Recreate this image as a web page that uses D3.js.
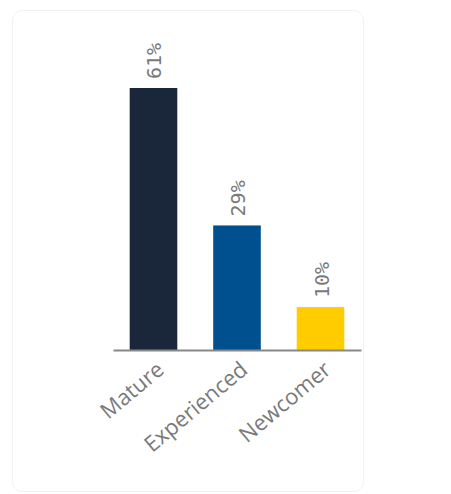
<!DOCTYPE html>
<html>
<head>
<meta charset="utf-8">
<style>
body { margin: 0; background: #fff; }
#chart text.value { font-family: "DejaVu Sans Mono", monospace; fill: #7a7a7a; font-size: 20px; }
#chart text.cat { font-family: "Open Sans", sans-serif; fill: #7a7a7a; font-size: 22px; }
</style>
</head>
<body>
<svg id="chart" width="451" height="494"></svg>
<script src="https://d3js.org/d3.v7.min.js"></script>
<script>
const categories = ['Mature', 'Experienced', 'Newcomer'];
const values = [61, 29, 10];
const colors = ['#1a2639', '#00508f', '#ffcc00'];

const svg = d3.select('#chart');

// faint card behind the chart
svg.append('rect')
    .attr('x', 12.5).attr('y', 10.5)
    .attr('width', 351).attr('height', 481)
    .attr('rx', 10)
    .attr('fill', '#fff')
    .attr('stroke', '#f2f2f2');

const x = d3.scaleBand()
    .domain(categories)
    .range([113, 361])
    .paddingInner(0.43)
    .paddingOuter(0.2);

const y = d3.scaleLinear()
    .domain([0, 61])
    .range([350, 88]);

const data = categories.map((c, i) => ({cat: c, value: values[i], color: colors[i]}));

svg.selectAll('rect.bar')
    .data(data)
    .join('rect')
    .attr('class', 'bar')
    .attr('x', d => x(d.cat))
    .attr('y', d => y(d.value))
    .attr('width', x.bandwidth())
    .attr('height', d => y(0) - y(d.value))
    .attr('fill', d => d.color);

svg.selectAll('text.value')
    .data(data)
    .join('text')
    .attr('class', 'value')
    .attr('transform', d => `translate(${x(d.cat) + x.bandwidth() / 2 + 8},${y(d.value) - 9}) rotate(-90)`)
    .text(d => d.value + '%');

const axis = svg.append('g')
    .attr('transform', `translate(0,${y(0)})`)
    .call(d3.axisBottom(x).tickSize(0).tickSizeOuter(0).tickPadding(0));

axis.select('.domain').attr('stroke', '#888').attr('stroke-width', 2);

axis.selectAll('.tick text')
    .attr('class', 'cat')
    .attr('text-anchor', 'end')
    .attr('dy', null)
    .attr('transform', 'translate(12,22) rotate(-40)');
</script>
</body>
</html>
